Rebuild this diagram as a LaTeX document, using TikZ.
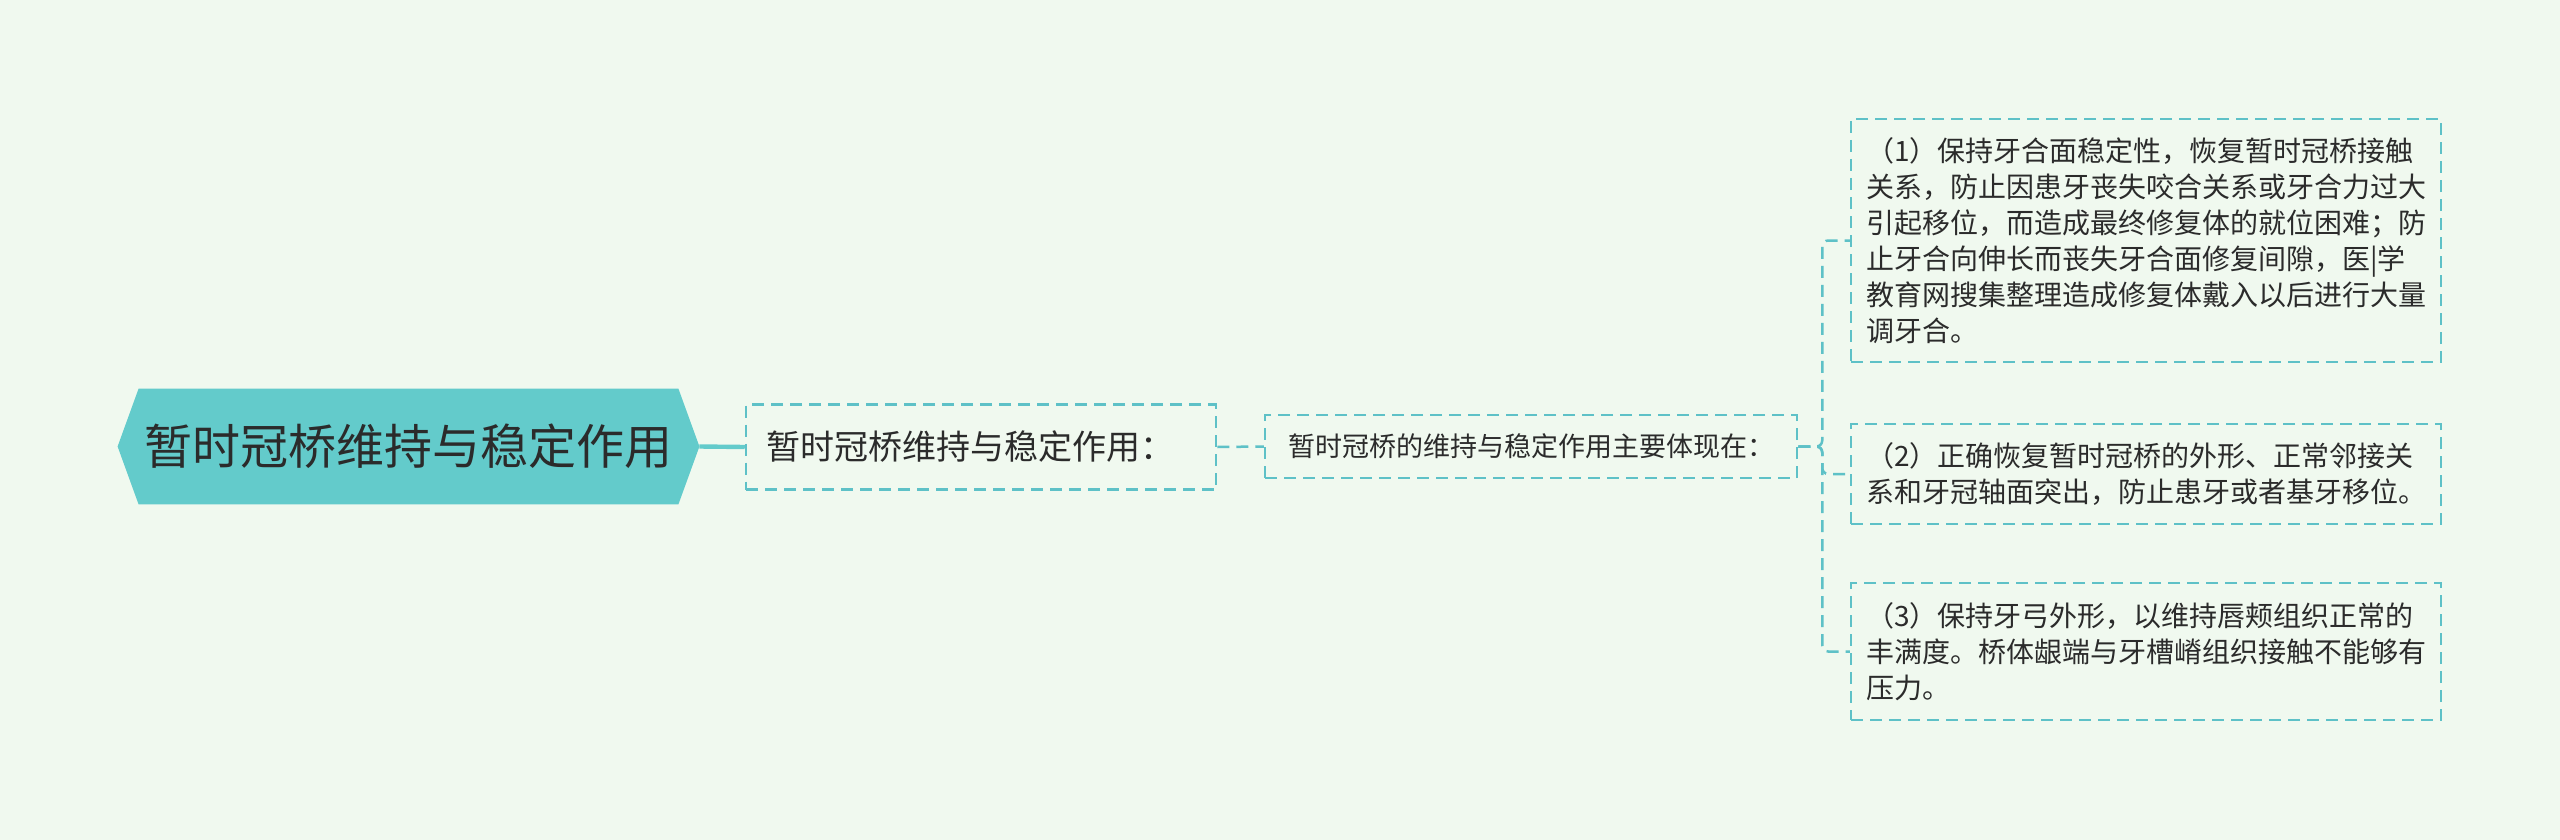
\documentclass[tikz,border=0pt]{standalone}
\usepackage{fontspec}
\setmainfont{Noto Sans CJK SC}
\usetikzlibrary{calc}
\definecolor{bgC}{HTML}{F0F9EF}
\definecolor{rootC}{HTML}{63CBCB}
\definecolor{lineC}{HTML}{5EC1C7}
\definecolor{txt}{HTML}{2B2B2B}
\pgfdeclarelayer{background}
\pgfsetlayers{background,main}
\begin{document}
\begin{tikzpicture}[x=0.5pt,y=-0.5pt,
  dbox/.style={draw=lineC, dash pattern=on 6pt off 3.5pt, line width=1.25pt, inner sep=0pt, text=txt},
  conn/.style={draw=lineC, dash pattern=on 6pt off 3.5pt, line width=1.25pt, rounded corners=3pt},
  leaf/.style={dbox, minimum width=295pt, align=left, font=\fontsize{14pt}{18pt}\selectfont}]
\begin{pgfonlayer}{background}
\fill[bgC] (0,0) rectangle (2560,840);
\end{pgfonlayer}
\useasboundingbox (0,0) rectangle (2560,840);

% root
\node[text=txt, minimum width=269.5pt, minimum height=57.5pt, inner sep=0pt,
      font=\fontsize{24pt}{28pt}\selectfont] (root) at (408.5,446.5) {暂时冠桥维持与稳定作用};
\coordinate (rtip) at ($(root.east)+(21,0)$);
\coordinate (ltip) at ($(root.west)+(-21,0)$);
\begin{pgfonlayer}{background}
\fill[rootC] (root.north west) -- (root.north east) -- (rtip) -- (root.south east)
  -- (root.south west) -- (ltip) -- cycle;
\end{pgfonlayer}

% level 1
\node[dbox, minimum width=235pt, minimum height=42.5pt, inner xsep=10pt, text width=215pt, align=left,
      font=\fontsize{17pt}{20pt}\selectfont]
  (b2) at (981,447) {暂时冠桥维持与稳定作用：};
% level 2
\node[dbox, minimum width=266pt, minimum height=31.5pt, font=\fontsize{13.5pt}{16pt}\selectfont]
  (b3) at (1531,446.5) {暂时冠桥的维持与稳定作用主要体现在：};

% leaves
\node[leaf, minimum height=121.5pt] (c1) at (2146,240.5) {（1）保持牙合面稳定性，恢复暂时冠桥接触\\关系，防止因患牙丧失咬合关系或牙合力过大\\引起移位，而造成最终修复体的就位困难；防\\止牙合向伸长而丧失牙合面修复间隙，医|学\\教育网搜集整理造成修复体戴入以后进行大量\\调牙合。};
\node[leaf, minimum height=50pt] (c2) at (2146,474) {（2）正确恢复暂时冠桥的外形、正常邻接关\\系和牙冠轴面突出，防止患牙或者基牙移位。};
\node[leaf, minimum height=68.5pt] (c3) at (2146,651.5) {（3）保持牙弓外形，以维持唇颊组织正常的\\丰满度。桥体龈端与牙槽嵴组织接触不能够有\\压力。};

% connectors
\draw[rootC, line width=2.2pt] (rtip) -- (b2.west);
\draw[conn] (b2.east) -- (b3.west);
\draw[conn] (b3.east) -- ++(24,0) |- (c1.west);
\draw[conn] (b3.east) -- ++(24,0) |- (c2.west);
\draw[conn] (b3.east) -- ++(24,0) |- (c3.west);
\end{tikzpicture}
\end{document}
